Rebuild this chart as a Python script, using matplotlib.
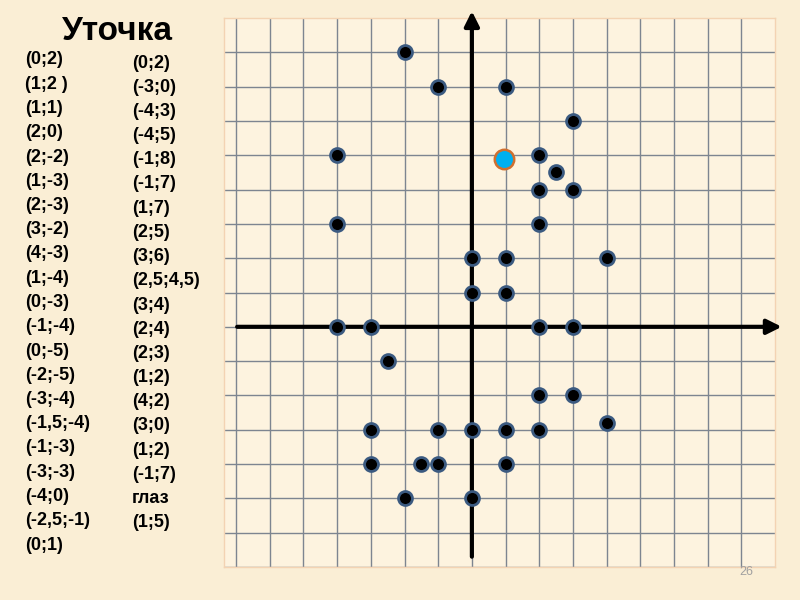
import numpy as np
import matplotlib.pyplot as plt

plt.rcParams['font.family'] = ['Liberation Sans', 'DejaVu Sans']

# coordinate lists shown on the slide
col1 = ['(0;2)', '(1;2 )', '(1;1)', '(2;0)', '(2;-2)', '(1;-3)', '(2;-3)', '(3;-2)',
        '(4;-3)', '(1;-4)', '(0;-3)', '(-1;-4)', '(0;-5)', '(-2;-5)', '(-3;-4)',
        '(-1,5;-4)', '(-1;-3)', '(-3;-3)', '(-4;0)', '(-2,5;-1)', '(0;1)']
col2 = ['(0;2)', '(-3;0)', '(-4;3)', '(-4;5)', '(-1;8)', '(-1;7)', '(1;7)', '(2;5)',
        '(3;6)', '(2,5;4,5)', '(3;4)', '(2;4)', '(2;3)', '(1;2)', '(4;2)', '(3;0)',
        '(1;2)', '(-1;7)', 'глаз', '(1;5)']

# points as drawn on the grid
px = [-2, -1, 1, 3, -4, 2, 2.5, 2, 3, -4, 2, 0, 1, 4, 0, 1, -4, -3, 2, 3,
      -2.5, 2, 3, -3, -1, 0, 1, 2, 4, -3, -1.5, -1, 1, -2, 0]
py = [8, 7, 7, 6, 5, 5, 4.5, 4, 4, 3, 3, 2, 2, 2, 1, 1, 0, 0, 0, 0,
      -1, -2, -2, -3, -3, -3, -3, -3, -2.8, -4, -4, -4, -4, -5, -5]
eye_x = [0.95]
eye_y = [4.9]

fig = plt.figure(figsize=(8, 6), dpi=100)
fig.patch.set_facecolor('#faeed5')

ax = fig.add_axes([224/800, 33/600, 551/800, 549/600])
ax.set_facecolor('#fdf3df')
ax.set_xlim(-7.36, 9)
ax.set_ylim(-7, 9)

for x in range(-7, 9):
    ax.plot([x, x], [-7, 9], color='#7d8590', lw=1, zorder=1)
for y in range(-7, 9):
    ax.plot([-7.36, 9], [y, y], color='#7d8590', lw=1, zorder=1)

ax.set_xticks([])
ax.set_yticks([])
for s in ax.spines.values():
    s.set_color('#f3d3b3')
    s.set_linewidth(1)

# axes with arrows
ax.annotate('', xy=(9.2, 0), xytext=(-6.97, 0), annotation_clip=False,
            arrowprops=dict(arrowstyle='-|>', lw=3, color='black', mutation_scale=22,
                            shrinkA=0, shrinkB=0), zorder=3)
ax.annotate('', xy=(0, 9.2), xytext=(0, -6.7), annotation_clip=False,
            arrowprops=dict(arrowstyle='-|>', lw=3, color='black', mutation_scale=22,
                            shrinkA=0, shrinkB=0), zorder=3)

ax.plot(px, py, 'o', color='black', ms=10, mec='#3b5a80', mew=2, zorder=4)
ax.plot(eye_x, eye_y, 'o', color='#00b0f0', ms=14, mec='#d07030', mew=1.8, zorder=4)

fig.text(62/800, 1 - 40/600, 'Уточка', fontsize=24, fontweight='bold', va='baseline')

for i, t in enumerate(col1):
    fig.text(25/800, 1 - (60 + i*24.25)/600, t, fontsize=13, fontweight='bold', va='center')
for i, t in enumerate(col2):
    fig.text(132/800, 1 - (63 + i*24.2)/600, t, fontsize=13, fontweight='bold', va='center')

fig.text(746/800, 1 - 572/600, '26', fontsize=9, color='#a0a0a0', ha='center', va='center')

plt.savefig('out.png', dpi=100, facecolor=fig.get_facecolor())
